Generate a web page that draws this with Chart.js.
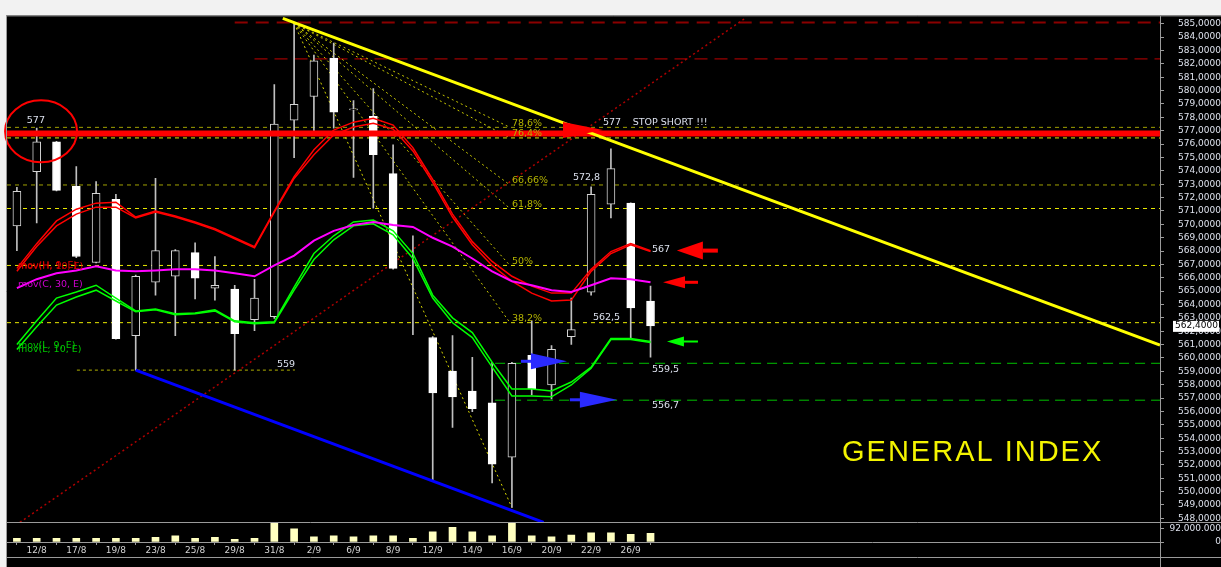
<!DOCTYPE html>
<html><head><meta charset="utf-8">
<script src="https://cdn.jsdelivr.net/npm/chart.js@4.4.1/dist/chart.umd.min.js"></script>
<style>html,body{margin:0;padding:0;background:#000;overflow:hidden}canvas{display:block}</style>
</head><body>
<canvas id="c" width="1221" height="567"></canvas>
<script>
// ---------- DATA ----------
const dates = ['11/8','12/8','16/8','17/8','18/8','19/8','22/8','23/8','24/8','25/8','26/8','29/8','30/8','31/8','1/9','2/9','5/9','6/9','7/9','8/9','9/9','12/9','13/9','14/9','15/9','16/9','19/9','20/9','21/9','22/9','23/9','26/9','27/9'];
const open  = [569.88,573.94,576.16,572.83,567.14,571.87,561.67,565.66,566.11,567.88,565.22,565.15,562.86,563.08,577.79,579.56,582.44,578.56,578.08,573.79,565.50,561.53,559.01,557.53,556.65,552.58,560.19,557.98,561.60,564.93,571.50,571.58,564.26];
const high  = [572.76,577.19,576.20,574.31,573.20,572.24,566.20,573.43,568.10,568.62,567.59,565.44,565.89,580.45,585.03,582.66,583.55,579.26,580.15,575.94,569.14,561.60,561.67,560.05,559.68,559.68,562.78,560.93,564.48,572.80,575.64,571.60,565.37];
const low   = [568.03,570.10,572.50,567.50,567.10,561.40,559.09,564.70,561.67,564.41,564.33,559.09,562.04,562.95,574.98,576.97,577.19,573.50,571.21,566.65,561.75,550.81,554.80,555.98,550.66,548.81,557.24,556.94,561.01,564.70,570.47,561.38,560.05];
const close = [572.46,576.16,572.54,567.59,572.32,561.45,566.11,568.03,568.03,565.96,565.44,561.82,564.48,577.49,578.97,582.22,578.38,578.64,575.20,566.70,565.50,557.39,557.09,556.20,552.06,559.60,557.68,560.64,562.12,572.24,574.16,563.74,562.40];
const volume = [24e6,24e6,24e6,24e6,24e6,24e6,24e6,31e6,41e6,24e6,31e6,18e6,24e6,149e6,87e6,35e6,41e6,35e6,41e6,41e6,24e6,68e6,97e6,68e6,41e6,149e6,41e6,35e6,46e6,61e6,61e6,51e6,57e6];

const movH9  = [566.70,568.55,570.25,571.13,571.58,571.65,570.54,570.99,570.62,570.17,569.66,568.99,568.33,570.99,573.57,575.57,577.05,577.64,577.93,577.42,575.72,573.35,570.76,568.70,567.22,566.11,565.37,564.85,564.85,566.63,567.96,568.55,568.03];
const movH10 = [566.48,568.33,569.88,570.76,571.28,571.28,570.47,570.91,570.54,570.10,569.58,568.92,568.25,570.91,573.43,575.20,576.68,577.27,577.56,577.12,575.49,573.13,570.54,568.47,566.92,565.74,564.85,564.26,564.33,566.48,567.81,568.47,567.96];
const movC30 = [565.22,565.89,566.33,566.55,566.85,566.55,566.48,566.55,566.63,566.63,566.55,566.33,566.11,566.92,567.66,568.77,569.51,569.95,570.17,569.95,569.80,568.99,568.33,567.44,566.48,565.74,565.44,565.07,564.93,565.44,565.96,565.89,565.66];
const movL9  = [561.01,562.78,564.48,564.93,565.44,564.48,563.52,563.67,563.30,563.37,563.60,562.78,562.63,562.71,565.29,567.81,569.14,570.17,570.32,569.51,567.81,564.70,563.00,561.90,559.68,557.68,557.68,557.53,558.20,559.31,561.45,561.45,561.23];
const movL10 = [560.64,562.34,563.96,564.56,565.07,564.26,563.45,563.60,563.23,563.30,563.52,562.71,562.56,562.63,565.07,567.36,568.84,569.88,570.03,569.21,567.44,564.48,562.63,561.52,559.31,557.16,557.16,557.09,557.98,559.23,561.38,561.38,561.16];

const priceTicks = [548,549,550,551,552,553,554,555,556,557,558,559,560,561,562,563,564,565,566,567,568,569,570,571,572,573,574,575,576,577,578,579,580,581,582,583,584,585];
const volumeTicks = [0, 92000000];
const lastPrice = 562.40;

// Fibonacci retracement (high 585.03 on 1/9, low 548.81 on 16/9)
const fibOrigin = [14, 585.03];
const fibLow = [25, 548.81];
const fibLabels = ['78,6%','76,4%','66,66%','61,8%','50%','38,2%'];
const fibPrices = [577.25, 576.46, 572.94, 571.18, 566.92, 562.64];
const fibBright = [false, true, false, true, true, true];

// drawn lines (index, price)
const stopLine = [[-0.5, 576.79],[57.73, 576.79]];
const topDash1 = [[11.0, 585.10],[57.73, 585.10]];
const topDash2 = [[12.0, 582.37],[57.73, 582.37]];
const yellowTrend = [[13.43, 585.40],[57.73, 560.96]];
const redDotted = [[0.15, 547.70],[36.77, 585.40]];
const blueSupport = [[6, 559.09],[26.6, 547.70]];
const green1 = [[24.15, 559.60],[57.73, 559.60]];
const green2 = [[24.15, 556.84],[57.73, 556.84]];
const line559 = [[3.03, 559.09],[14.04, 559.09]];

// text annotations
const textNotes = [
  ['577', 0.5, 577.79], ['559', 13.13, 559.53], ['577', 29.6, 577.64], ['STOP SHORT !!!', 31.1, 577.64],
  ['572,8', 28.08, 573.50], ['562,5', 29.09, 563.00], ['567', 32.07, 568.10], ['559,5', 32.07, 559.16], ['556,7', 32.07, 556.43]
];
const movLabels = [['mov(H, 9, E)', 0.05, 566.92, '#e00000'], ['mov(H, 10, E)', 0.05, 566.85, '#e00000'], ['mov(C, 30, E)', 0.05, 565.52, '#d000d0'], ['mov(L, 9, E)', 0.05, 560.93, '#00c800'], ['mov(L, 10, E)', 0.05, 560.64, '#00c800']];
const titleText = ['GENERAL INDEX', 41.67, 552.88];
const circle577 = [1.22, 576.95];
// arrows: [tipIndex, tipPrice, direction]
const arrowTips = [[29.6, 577.05, 1], [33.33, 568.03, -1], [32.63, 565.66, -1], [32.83, 561.23, -1], [27.78, 559.75, 1], [30.30, 556.87, 1]];
const arrowStyle = [
  {head:40, half:8, shaft:0, sw:0, color:'#ff0000'},
  {head:26, half:9, shaft:14, sw:4, color:'#ff0000'},
  {head:22, half:6, shaft:12, sw:3, color:'#ff0000'},
  {head:17, half:5, shaft:13, sw:2, color:'#00ff00'},
  {head:36, half:8, shaft:10, sw:3, color:'#2a2aff'},
  {head:37, half:8, shaft:10, sw:3, color:'#2a2aff'}
];

// ---------- CHART ----------
const idx = dates.map((d, i) => i);
const pts = arr => arr.map(p => ({x: p[0], y: p[1]}));
const seg = (arr, color, width, dash, order) => ({type:'line', data: pts(arr), borderColor: color, borderWidth: width, borderDash: dash || [], pointRadius: 0, fill: false, tension: 0, order, yAxisID: 'y', borderCapStyle: 'butt'});
const maLine = (arr, color, width) => ({type:'line', data: idx.map(i => ({x: i, y: arr[i]})), borderColor: color, borderWidth: width, pointRadius: 0, fill: false, tension: 0, order: 50, yAxisID: 'y'});

const datasets = [];
fibPrices.forEach((p, k) => datasets.push(seg([[-0.5, p],[57.73, p]], fibBright[k] ? '#e8e800' : '#a0a000', 1, [4,4], 100)));
datasets.push(seg(line559, '#b0b000', 1, [3,3], 100));
fibPrices.forEach(p => datasets.push(seg([fibOrigin, [24.9, p]], '#c8c800', 1, [2,3], 95)));
datasets.push(seg([fibOrigin, fibLow], '#d8d800', 1, [2,3], 95));
datasets.push(seg(topDash1, '#8a0000', 2, [13,8], 95));
datasets.push(seg(topDash2, '#c00000', 1, [13,7], 95));
datasets.push(seg(redDotted, '#b00000', 1.5, [2,3], 94));
datasets.push(seg(green1, '#00c000', 1, [10,6], 94));
datasets.push(seg(green2, '#00c000', 1, [10,6], 94));
// wicks
datasets.push({type:'bar', data: idx.map(i => ({x: i, y: [low[i], high[i]]})), backgroundColor: '#c0c0c0', barThickness: 1, grouped: false, order: 80, yAxisID: 'y'});
// bodies
datasets.push({type:'bar', data: idx.map(i => ({x: i, y: [open[i], close[i]]})),
  backgroundColor: idx.map(i => close[i] >= open[i] ? '#000000' : '#ffffff'),
  borderColor: idx.map(i => close[i] >= open[i] ? '#d4d4d4' : '#ffffff'),
  borderWidth: 1, borderSkipped: false, barThickness: 8, grouped: false, order: 70, yAxisID: 'y'});
// volume
datasets.push({type:'bar', data: idx.map(i => ({x: i, y: volume[i]})), backgroundColor: '#ffffc0', barThickness: 7, grouped: false, order: 60, yAxisID: 'yv'});
// moving averages
datasets.push(maLine(movC30, '#ff00ff', 2));
datasets.push(maLine(movL9, '#00ff00', 1.5));
datasets.push(maLine(movL10, '#00ff00', 1.5));
datasets.push(maLine(movH9, '#ff0000', 1.5));
datasets.push(maLine(movH10, '#ff0000', 1.5));
datasets.push(seg(blueSupport, '#0000ff', 3, [], 40));
datasets.push(seg(stopLine, '#ff0000', 6, [], 30));
datasets.push(seg(yellowTrend, '#ffff00', 3, [], 20));

const FONT = '"DejaVu Sans", Verdana, sans-serif';
const annotations = {
  id: 'annot',
  beforeDraw(chart) {
    const ctx = chart.ctx, W = chart.width, H = chart.height;
    ctx.save();
    ctx.fillStyle = '#000'; ctx.fillRect(0, 0, W, H);
    ctx.fillStyle = '#f2f2f2'; ctx.fillRect(0, 0, W, chart.chartArea.top - 1); ctx.fillRect(0, 0, chart.chartArea.left - 1, H);
    ctx.restore();
  },
  afterDatasetsDraw(chart) {
    const ctx = chart.ctx, sx = chart.scales.x, sy = chart.scales.y;
    const X = v => sx.getPixelForValue(v), Y = v => sy.getPixelForValue(v);
    ctx.save();
    arrowTips.forEach((a, k) => {
      const s = arrowStyle[k], tx = X(a[0]), ty = Y(a[1]), d = a[2];
      ctx.fillStyle = s.color;
      ctx.beginPath();
      ctx.moveTo(tx, ty); ctx.lineTo(tx - d * s.head, ty - s.half); ctx.lineTo(tx - d * s.head, ty + s.half); ctx.closePath(); ctx.fill();
      if (s.shaft) { const x0 = tx - d * s.head, x1 = x0 - d * s.shaft; ctx.fillRect(Math.min(x0, x1), ty - s.sw / 2, Math.abs(x1 - x0) + 1, s.sw); }
    });
    ctx.strokeStyle = '#ff0000'; ctx.lineWidth = 2;
    ctx.beginPath(); ctx.ellipse(X(circle577[0]), Y(circle577[1]), 36, 31, 0, 0, Math.PI * 2); ctx.stroke();
    ctx.textBaseline = 'middle'; ctx.textAlign = 'left';
    ctx.font = '9.5px ' + FONT;
    ctx.fillStyle = '#dbe0ec';
    textNotes.forEach(t => ctx.fillText(t[0], X(t[1]), Y(t[2])));
    ctx.fillStyle = '#b4b400';
    fibLabels.forEach((t, k) => ctx.fillText(t, X(25.0), Y(fibPrices[k]) - 4));
    movLabels.forEach(t => { ctx.fillStyle = t[3]; ctx.fillText(t[0], X(t[1]), Y(t[2])); });
    ctx.font = '29px "Liberation Sans", Arial, sans-serif';
    try { ctx.letterSpacing = '2px'; } catch (e) {}
    ctx.fillStyle = '#f4f400';
    ctx.fillText(titleText[0], X(titleText[1]), Y(titleText[2]));
    ctx.restore();
  },
  afterDraw(chart) {
    const ctx = chart.ctx, a = chart.chartArea, W = chart.width, H = chart.height;
    const sy = chart.scales.y, sx = chart.scales.x;
    ctx.save();
    ctx.strokeStyle = '#9a9a9a'; ctx.lineWidth = 1;
    ctx.beginPath();
    ctx.moveTo(a.left - 1, a.top - 0.5); ctx.lineTo(W, a.top - 0.5);
    ctx.moveTo(a.left - 0.5, a.top - 1); ctx.lineTo(a.left - 0.5, H);
    ctx.moveTo(a.left, Math.round(sy.bottom) + 0.5); ctx.lineTo(W, Math.round(sy.bottom) + 0.5);
    ctx.moveTo(a.left, Math.round(sx.bottom) - 9.5); ctx.lineTo(W, Math.round(sx.bottom) - 9.5);
    ctx.moveTo(Math.round(a.right) + 0.5, a.bottom); ctx.lineTo(Math.round(a.right) + 0.5, H);
    ctx.stroke();
    const yp = sy.getPixelForValue(lastPrice);
    ctx.fillStyle = '#ffffff'; ctx.fillRect(a.right + 13, yp - 5, 46, 11);
    ctx.fillStyle = '#000'; ctx.font = '9px ' + FONT; ctx.textBaseline = 'middle'; ctx.textAlign = 'right';
    ctx.fillText(lastPrice.toFixed(4).replace('.', ','), a.right + 58, yp);
    ctx.restore();
  }
};

const tickFont = {family: FONT, size: 9};
new Chart(document.getElementById('c'), {
  type: 'bar',
  data: {datasets},
  options: {
    responsive: false, animation: false, devicePixelRatio: 1,
    layout: {padding: {left: 7, top: 10, right: 0, bottom: 0}},
    plugins: {legend: {display: false}, tooltip: {enabled: false}},
    scales: {
      x: {type: 'linear', min: -0.5, max: 57.73, offset: false,
        afterBuildTicks: s => { s.ticks = idx.filter(i => i % 2 === 1).map(v => ({value: v})); },
        afterFit: s => { s.height = 25; },
        ticks: {autoSkip: false, maxRotation: 0, padding: 0, color: '#d4d4d4', font: tickFont, callback: v => dates[v] || ''},
        grid: {drawOnChartArea: false, drawTicks: true, tickLength: 3, color: '#9a9a9a'},
        border: {display: true, color: '#9a9a9a'}},
      y: {type: 'linear', position: 'right', stack: 'main', stackWeight: 512, min: 547.71, max: 585.55,
        afterBuildTicks: s => { s.ticks = priceTicks.map(v => ({value: v})); },
        afterFit: s => { s.width = 61; },
        ticks: {autoSkip: false, crossAlign: 'far', padding: 11, color: '#dde1ec', font: tickFont, callback: v => Number(v).toFixed(4).replace('.', ',')},
        grid: {drawOnChartArea: false, drawTicks: true, tickLength: 4, color: '#9a9a9a'},
        border: {display: true, color: '#9a9a9a'}},
      yv: {type: 'linear', position: 'right', stack: 'main', stackWeight: 20, min: 0, max: 131.4e6,
        afterBuildTicks: s => { s.ticks = volumeTicks.map(v => ({value: v})); },
        afterFit: s => { s.width = 61; },
        ticks: {autoSkip: false, crossAlign: 'far', padding: 2.5, color: '#dde1ec', font: tickFont, callback: v => String(v).replace(/\B(?=(\d{3})+(?!\d))/g, '.')},
        grid: {drawOnChartArea: false, drawTicks: true, tickLength: 4, color: '#9a9a9a'},
        border: {display: true, color: '#9a9a9a'}}
    }
  },
  plugins: [annotations]
});
</script>
</body></html>
